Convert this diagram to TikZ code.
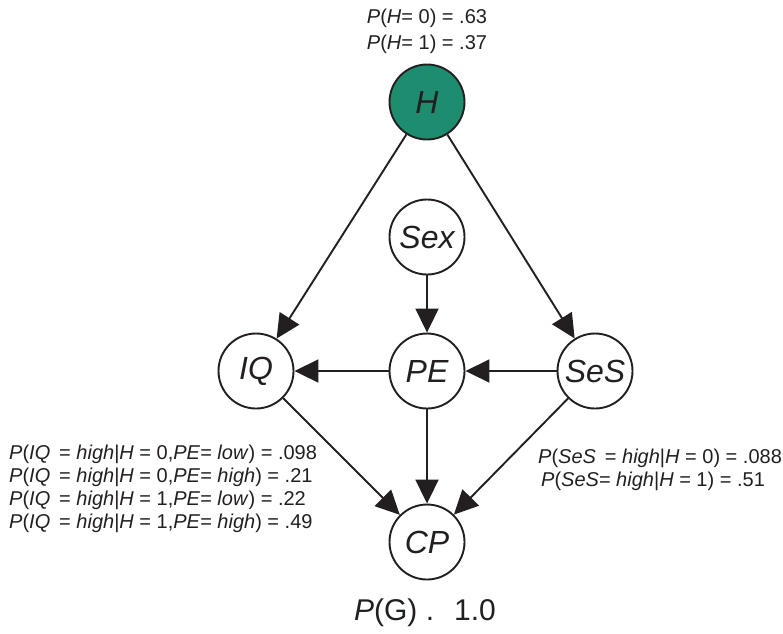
\documentclass[tikz,border=0pt]{standalone}
\usepackage{fontspec}
\setmainfont{Liberation Sans}
\usetikzlibrary{arrows.meta}
\definecolor{ink}{RGB}{35,31,32}
\definecolor{hgreen}{RGB}{30,140,110}
\tikzset{
  var/.style={circle, draw=ink, line width=1.9pt, minimum size=75pt, inner sep=0pt,
    fill=white, text=ink, font=\fontsize{32}{38}\selectfont\itshape},
  edge/.style={draw=ink, line width=1.9pt, -{Triangle[length=24pt,width=23pt]}},
  prob/.style={text=ink, inner sep=0pt, font=\fontsize{20}{23}\selectfont},
}
\begin{document}
\begin{tikzpicture}[x=1pt,y=-1pt]
\useasboundingbox (0,0) rectangle (783,633);
\node[var, fill=hgreen] (H) at (427,102) {H};
\node[var] (Sex) at (427,237) {Sex};
\node[var] (IQ) at (256,371) {IQ};
\node[var] (PE) at (427,371) {PE};
\node[var] (SeS) at (595,371) {SeS};
\node[var] (CP) at (427,542) {CP};

\draw[edge] (H) -- (IQ);
\draw[edge] (H) -- (SeS);
\draw[edge] (Sex) -- (PE);
\draw[edge] (PE) -- (IQ);
\draw[edge] (SeS) -- (PE);
\draw[edge] (IQ) -- (CP);
\draw[edge] (PE) -- (CP);
\draw[edge] (SeS) -- (CP);

\node[prob, align=center, font=\fontsize{20}{26}\selectfont] (ptop) at (427,31)
  {\textit{P}(\textit{H}= 0) = .63\\ \textit{P}(\textit{H}= 1) = .37};
\node[prob, align=left, anchor=west] (piq) at (9,489)
  {\textit{P}(\textit{IQ}\ \,= \textit{high}|\textit{H} = 0,\textit{PE}= \textit{low}) = .098\\
   \textit{P}(\textit{IQ}\ \,= \textit{high}|\textit{H} = 0,\textit{PE}= \textit{high}) = .21\\
   \textit{P}(\textit{IQ}\ \,= \textit{high}|\textit{H} = 1,\textit{PE}= \textit{low}) = .22\\
   \textit{P}(\textit{IQ}\ \,= \textit{high}|\textit{H} = 1,\textit{PE}= \textit{high}) = .49};
\node[prob, align=left, anchor=west] (pses) at (538,470)
  {\textit{P}(\textit{SeS}\ \,= \textit{high}|\textit{H} = 0) = .088\\
   \hspace{3pt}\textit{P}(\textit{SeS}= \textit{high}|\textit{H} = 1) = .51};
\node[prob, font=\fontsize{30}{36}\selectfont] (pg) at (425,613)
  {\textit{P}(G) .\hspace{20pt}1.0};
\end{tikzpicture}
\end{document}
